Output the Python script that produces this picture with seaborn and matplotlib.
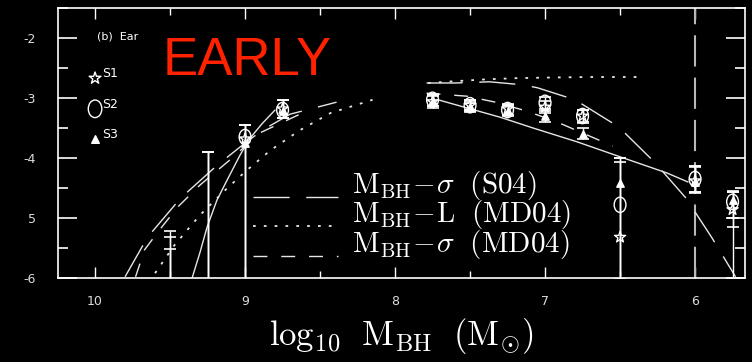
import matplotlib
matplotlib.use("Agg")
import matplotlib.pyplot as plt
import seaborn as sns
from matplotlib.lines import Line2D
from matplotlib.legend_handler import HandlerLine2D
from matplotlib.markers import MarkerStyle
from matplotlib.transforms import Affine2D

# ---- model curves (log10 M_BH vs log10 number density) ----
s04_left_x = [9.80, 9.65, 9.43, 9.19, 9.00, 8.88, 8.70, 8.39]
s04_left_y = [-5.98, -5.32, -4.67, -4.13, -3.75, -3.53, -3.27, -3.07]
s04_right_x = [7.79, 7.60, 7.37, 7.15, 7.05, 6.80, 6.51, 6.27, 6.06, 5.89, 5.73]
s04_right_y = [-2.75, -2.75, -2.73, -2.78, -2.83, -3.03, -3.48, -4.07, -4.67, -5.32, -5.98]

md04l_left_x = [9.60, 9.47, 9.30, 9.13, 9.00, 8.83, 8.63, 8.43, 8.15]
md04l_left_y = [-5.92, -5.45, -4.95, -4.53, -4.23, -3.87, -3.53, -3.25, -3.03]
md04l_right_x = [7.78, 7.60, 7.40, 7.20, 7.00, 6.70, 6.37]
md04l_right_y = [-2.75, -2.72, -2.69, -2.67, -2.66, -2.65, -2.65]

md04s_left_x = [9.73, 9.67, 9.58, 9.45, 9.30, 9.10, 8.90, 8.60]
md04s_left_y = [-5.98, -5.53, -5.23, -4.82, -4.45, -4.03, -3.58, -3.23]
md04s_right_x = [7.79, 7.52, 7.33, 7.12, 6.92, 6.55]
md04s_right_y = [-2.92, -2.97, -3.07, -3.22, -3.40, -3.80]

fit_left_x = [9.353, 9.30, 9.253, 9.187, 9.12, 9.033, 8.967, 8.887, 8.80]
fit_left_y = [-6.00, -5.57, -5.15, -4.70, -4.37, -3.95, -3.67, -3.43, -3.20]
fit_right_x = [7.713, 7.30, 7.08, 6.787, 6.50, 6.187, 6.047]
fit_right_y = [-3.03, -3.32, -3.50, -3.73, -3.98, -4.25, -4.40]

# ---- binned estimates for the three samples ----
mass_bins = [9.5, 9.25, 9.0, 8.75, 7.75, 7.5, 7.25, 7.0, 6.75, 6.5, 6.0, 5.75]

s1_y = [-6.6, -6.6, -3.68, -3.18, -3.06, -3.12, -3.18, -3.15, -3.30, -5.32, -4.38, -4.86]
s1_lo = [0.5, 0.5, 2.8, 0.15, 0.10, 0.10, 0.10, 0.10, 0.12, 1.0, 0.20, 1.5]
s1_hi = [1.38, 2.7, 0.23, 0.15, 0.10, 0.08, 0.08, 0.10, 0.10, 1.32, 0.25, 0.30]

s2_y = [-6.6, -6.6, -3.65, -3.20, -3.03, -3.12, -3.20, -3.08, -3.30, -4.78, -4.35, -4.73]
s2_lo = [0.5, 0.5, 2.8, 0.14, 0.10, 0.08, 0.08, 0.10, 0.10, 1.5, 0.22, 0.27]
s2_hi = [1.28, 2.7, 0.20, 0.16, 0.10, 0.08, 0.08, 0.10, 0.10, 0.78, 0.22, 0.17]

s3_y = [-6.6, -6.6, -3.75, -3.22, -3.05, -3.15, -3.22, -3.30, -3.60, -4.42, -4.40, -4.70]
s3_lo = [0.5, 0.5, 2.6, 0.12, 0.08, 0.08, 0.08, 0.10, 0.08, 1.6, 0.17, 0.45]
s3_hi = [1.08, 2.7, 0.30, 0.18, 0.10, 0.08, 0.08, 0.08, 0.10, 0.35, 0.25, 0.15]

sample_names = ["S1", "S2", "S3"]
legend_labels = [r"$\mathrm{M_{BH}}\!-\!\sigma\ \ \mathrm{(S04)}$",
                 r"$\mathrm{M_{BH}}\!-\!\mathrm{L}\ \ \mathrm{(MD04)}$",
                 r"$\mathrm{M_{BH}}\!-\!\sigma\ \ \mathrm{(MD04)}$"]
x_ticks = [10, 9, 8, 7, 6]
x_ticklabels = ["10", "9", "8", "7", "6"]
y_ticks = [-6, -5, -4, -3, -2]
y_ticklabels = ["-6", "5", "-4", "-3", "-2"]

# ---- style ----
sns.set_theme(style="dark", rc={
    "figure.facecolor": "black", "axes.facecolor": "black",
    "axes.edgecolor": "white", "axes.linewidth": 1.2,
    "axes.grid": False, "text.color": "white",
    "xtick.color": "white", "ytick.color": "white",
    "mathtext.fontset": "cm",
})
plt.rcParams["font.family"] = ["DejaVu Sans"]

LINE = "#e6e6e6"
long_dash = (0, (26, 12))
short_dash = (0, (10, 10))
dotted = (0, (1.5, 4.5))


class LoweredLine(HandlerLine2D):
    """Legend line drawn near the baseline of its label instead of its middle."""

    def create_artists(self, legend, orig_handle, xdescent, ydescent,
                       width, height, fontsize, trans):
        artists = super().create_artists(legend, orig_handle, xdescent,
                                         ydescent, width, height, fontsize,
                                         trans)
        for a in artists:
            a.set_ydata([v - 0.5 * fontsize for v in a.get_ydata()])
        return artists


fig = plt.figure(figsize=(7.52, 3.62), dpi=100)
ax = fig.add_axes([58 / 752, 84 / 362, 687 / 752, 270 / 362])

def curve(xs, ys, ls, lw=1.0):
    sns.lineplot(x=xs, y=ys, ax=ax, color=LINE, lw=lw, linestyle=ls,
                 sort=False, estimator=None, legend=False)

curve(s04_left_x, s04_left_y, long_dash)
curve(s04_right_x, s04_right_y, long_dash)
curve(md04l_left_x, md04l_left_y, dotted, 1.3)
curve(md04l_right_x, md04l_right_y, dotted, 1.3)
curve(md04s_left_x, md04s_left_y, short_dash)
curve(md04s_right_x, md04s_right_y, short_dash)
curve(fit_left_x, fit_left_y, "-")
curve(fit_right_x, fit_right_y, "-")

# threshold mass
ax.axvline(6.0, color="#b8b8b8", lw=1.5, linestyle=(0, (15, 5.3)), zorder=1)

star = MarkerStyle("*")
ellipse = MarkerStyle("o", transform=Affine2D().scale(1.0, 1.3))
tri = MarkerStyle("^")

series = [(s1_y, s1_lo, s1_hi, star, 70),
          (s2_y, s2_lo, s2_hi, ellipse, 72),
          (s3_y, s3_lo, s3_hi, tri, 28)]

for y, lo, hi, mk, size in series:
    ax.errorbar(mass_bins, y, yerr=[lo, hi], fmt="none", ecolor="white",
                elinewidth=1.0, capsize=4.5, capthick=1.2, zorder=3)
    filled = mk is tri
    sns.scatterplot(x=mass_bins, y=y, ax=ax, marker=mk, s=size,
                    facecolors="white" if filled else "none",
                    edgecolors="white", linewidth=1.0, legend=False, zorder=4)

# sample key at upper left
key_y = [-2.67, -3.18, -3.68]
key_sizes = [80, 95, 30]
for name, ky, (_, _, _, mk, _), sz in zip(sample_names, key_y, series, key_sizes):
    filled = mk is tri
    sns.scatterplot(x=[10.0], y=[ky], ax=ax, marker=mk, s=sz,
                    facecolors="white" if filled else "none",
                    edgecolors="white", linewidth=1.0, legend=False)
    ax.text(9.95, ky + 0.08, name, fontsize=9, color="white",
            ha="left", va="center")

ax.text(0.057, 0.893, "(b)  Ear", transform=ax.transAxes, fontsize=8,
        color="white", ha="left", va="center")
ax.text(0.153, 0.752, "EARLY", transform=ax.transAxes, fontsize=38,
        color="#ff2200", family="Liberation Sans", ha="left", va="baseline")

# axes, ticks
ax.set_xlim(10.247, 5.667)
ax.set_ylim(-6, -1.5)
ax.set_xticks(x_ticks)
ax.set_xticklabels(x_ticklabels)
ax.set_xticks([9.5, 8.5, 7.5, 6.5], minor=True)
ax.set_yticks(y_ticks)
ax.set_yticklabels(y_ticklabels)
ax.set_yticks([-5.5, -4.5, -3.5, -2.5, -1.5], minor=True)
ax.tick_params(axis="x", which="major", direction="in", length=8, width=1,
               top=True, bottom=True, pad=12, labelsize=9, labelcolor="#dddddd")
ax.tick_params(axis="x", which="minor", direction="in", length=5, width=1,
               top=True, bottom=True)
ax.tick_params(axis="y", which="major", direction="in", length=14, width=1.2,
               left=True, right=True, pad=16, labelsize=9, labelcolor="#dddddd")
ax.tick_params(axis="y", which="minor", direction="in", length=7, width=1.2,
               left=True, right=True)
for sp in ax.spines.values():
    sp.set_color("white")

ax.set_xlabel(r"$\mathrm{log_{10}\ \ M_{BH}\ \ (M_{\odot})}$", fontsize=25,
              color="white", labelpad=6)
ax.set_ylabel("")

handles = [Line2D([], [], color=LINE, lw=1.0, linestyle=long_dash),
           Line2D([], [], color=LINE, lw=1.3, linestyle=dotted),
           Line2D([], [], color=LINE, lw=1.0, linestyle=short_dash)]
leg = ax.legend(handles, legend_labels, loc="center left",
                bbox_to_anchor=(0.284, 0.235), frameon=False, fontsize=21,
                handlelength=2.9, handletextpad=0.5,
                labelspacing=-0.12, borderpad=0, borderaxespad=0,
                labelcolor="white", handler_map={Line2D: LoweredLine()})

fig.savefig("out.png", dpi=100, facecolor="black")
